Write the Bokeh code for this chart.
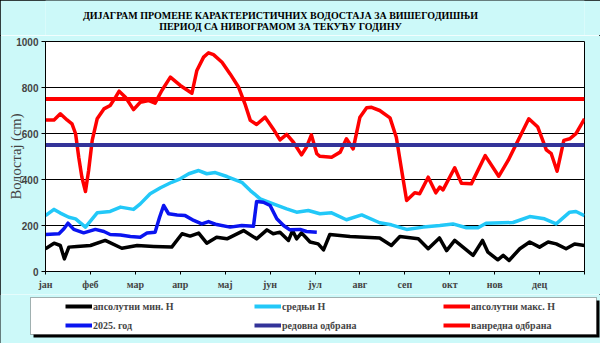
from bokeh.plotting import figure
from bokeh.layouts import column, row
from bokeh.models import Range1d, FixedTicker, Legend, LegendItem, BoxAnnotation, Label
from bokeh.embed import file_html
from bokeh.resources import INLINE

# ---------------- data (x in months from 1 Jan, y in cm) ----------------
months = ["јан", "феб", "мар", "апр", "мај", "јун", "јул", "авг", "сеп", "окт", "нов", "дец"]

max_x = [0, 0.19, 0.33, 0.48, 0.59, 0.67, 0.74, 0.81, 0.89, 0.96, 1.04, 1.15, 1.30, 1.44, 1.56, 1.64,
         1.78, 1.96, 2.11, 2.30, 2.44, 2.59, 2.78, 3.0, 3.26, 3.37, 3.52, 3.63, 3.74, 3.93, 4.11, 4.30,
         4.44, 4.56, 4.70, 4.89, 5.07, 5.22, 5.37, 5.52, 5.70, 5.81, 5.92, 6.04, 6.11, 6.37, 6.56, 6.70,
         6.85, 7.0, 7.15, 7.26, 7.44, 7.67, 7.81, 7.93, 8.04, 8.22, 8.33, 8.52, 8.69, 8.78, 8.85, 9.11,
         9.26, 9.48, 9.79, 10.09, 10.30, 10.52, 10.76, 10.96, 11.15, 11.26, 11.39, 11.54, 11.67, 11.81, 12.0]
max_y = [659, 659, 686, 659, 642, 599, 497, 410, 348, 439, 570, 664, 707, 722, 758, 784,
         758, 704, 736, 743, 732, 787, 845, 809, 775, 874, 932, 951, 943, 910, 859, 801,
         729, 657, 639, 671, 620, 572, 596, 562, 507, 541, 594, 512, 501, 497, 519, 577,
         533, 671, 712, 714, 700, 668, 584, 439, 309, 342, 338, 410, 342, 367, 355, 451,
         384, 381, 504, 414, 483, 570, 664, 628, 529, 512, 436, 570, 577, 599, 664]

mean_x = [0, 0.19, 0.33, 0.52, 0.67, 0.89, 1.15, 1.44, 1.67, 1.96, 2.11, 2.33, 2.56, 2.81, 3.0, 3.19,
          3.41, 3.59, 3.78, 4.04, 4.37, 4.56, 4.78, 5.07, 5.37, 5.59, 5.85, 6.11, 6.37, 6.70, 7.04,
          7.44, 7.70, 8.04, 8.41, 8.78, 9.07, 9.37, 9.63, 9.81, 10.41, 10.78, 11.11, 11.37, 11.67,
          11.81, 12.0]
mean_y = [243, 270, 254, 236, 229, 193, 255, 261, 280, 270, 294, 338, 364, 388, 403, 425,
          439, 425, 430, 413, 388, 352, 316, 294, 272, 258, 265, 251, 255, 225, 246,
          212, 203, 183, 193, 200, 207, 190, 190, 210, 213, 239, 229, 207, 258,
          261, 243]

min_x = [0, 0.19, 0.33, 0.42, 0.52, 0.70, 1.0, 1.33, 1.70, 2.04, 2.41, 2.81, 3.04, 3.22, 3.41, 3.59,
         3.81, 4.04, 4.41, 4.70, 4.93, 5.07, 5.22, 5.41, 5.50, 5.59, 5.70, 5.89, 6.07, 6.19, 6.33,
         6.78, 7.44, 7.70, 7.89, 8.30, 8.52, 8.77, 8.93, 9.11, 9.52, 9.73, 9.85, 10.07, 10.19, 10.32,
         10.56, 10.78, 11.0, 11.19, 11.37, 11.59, 11.78, 12.0]
min_y = [99, 123, 113, 55, 106, 109, 113, 135, 101, 113, 109, 106, 164, 154, 167, 123,
         149, 142, 178, 142, 181, 164, 171, 135, 178, 142, 168, 128, 120, 94, 161,
         152, 146, 113, 152, 142, 99, 146, 91, 135, 70, 135, 84, 51, 70, 48,
         99, 128, 106, 128, 120, 99, 120, 113]

cur_x = [0, 0.30, 0.41, 0.50, 0.63, 0.85, 1.11, 1.30, 1.44, 1.67, 1.89, 2.11, 2.26, 2.44, 2.54, 2.63,
         2.74, 2.93, 3.11, 3.30, 3.48, 3.63, 3.81, 4.11, 4.37, 4.63, 4.70, 4.85, 5.0, 5.15, 5.30,
         5.44, 5.67, 5.81, 6.04]
cur_y = [161, 164, 186, 210, 183, 168, 183, 174, 161, 159, 152, 149, 167, 171, 236, 287,
         251, 246, 243, 222, 207, 217, 204, 193, 200, 197, 304, 301, 287, 229, 200,
         181, 183, 174, 171]

redovna = 550   # regular flood defence level
vanredna = 750  # emergency flood defence level
year_span = [0, 12]

labels = ["апсолутни мин. H", "средњи H", "апсолутни макс. H",
          "2025. год", "редовна одбрана", "ванредна одбрана"]
colors = ["black", "#22c8f8", "#ff0000", "#0a14f0", "#333399", "#ff0000"]
title_lines = ["ДИЈАГРАМ ПРОМЕНЕ КАРАКТЕРИСТИЧНИХ ВОДОСТАЈА ЗА ВИШЕГОДИШЊИ",
               "ПЕРИОД СА НИВОГРАМОМ ЗА ТЕКУЋУ ГОДИНУ"]
y_label = "Водостај (cm)"

BG = "#ccf9f9"
SERIF = "Liberation Serif"
W = 600
LEFT, RIGHT = 45, 16
NAN = float("nan")

# ---------------- title strip ----------------
pt = figure(width=W, height=35, output_backend="svg", toolbar_location=None, title=None,
            x_range=Range1d(0, 1), y_range=Range1d(0, 1),
            x_axis_location=None, y_axis_location=None,
            min_border_left=LEFT, min_border_right=RIGHT, min_border_top=0, min_border_bottom=0)
pt.grid.visible = False
pt.outline_line_color = None
pt.background_fill_color = BG
pt.border_fill_color = BG
for txt, yy in zip(title_lines, [20, 9]):
    pt.add_layout(Label(x=280 - LEFT, y=yy, x_units="screen", y_units="screen", text=txt,
                        text_align="center", text_baseline="middle",
                        text_font=SERIF, text_font_style="bold", text_font_size="10px",
                        text_color="black"))

# ---------------- chart ----------------
p = figure(width=W, height=259, output_backend="svg", toolbar_location=None, title=None,
           x_range=Range1d(0, 12), y_range=Range1d(0, 1000),
           min_border_left=LEFT, min_border_right=RIGHT, min_border_top=6, min_border_bottom=23)
p.background_fill_color = "white"
p.border_fill_color = BG
p.outline_line_color = "black"
p.outline_line_width = 1

p.xgrid.visible = False
p.ygrid.grid_line_color = "black"
p.ygrid.grid_line_width = 1
p.ygrid.ticker = FixedTicker(ticks=[200, 400, 600, 800])

p.yaxis.ticker = FixedTicker(ticks=[0, 200, 400, 600, 800, 1000])
p.yaxis.major_label_text_font = "Liberation Sans"
p.yaxis.major_label_text_font_style = "bold"
p.yaxis.major_label_text_font_size = "10px"
p.yaxis.major_tick_out = 4
p.yaxis.major_tick_in = 0
p.yaxis.minor_tick_out = 0
p.yaxis.major_label_standoff = 3
p.yaxis.axis_label = y_label
p.yaxis.axis_label_text_font = SERIF
p.yaxis.axis_label_text_font_style = "normal"
p.yaxis.axis_label_text_font_size = "14.5px"
p.yaxis.axis_label_standoff = -11

p.xaxis.ticker = FixedTicker(ticks=list(range(13)))
p.xaxis.major_label_overrides = {**{i: m for i, m in enumerate(months)}, 12: ""}
p.xaxis.major_label_text_font = SERIF
p.xaxis.major_label_text_font_style = "bold"
p.xaxis.major_label_text_font_size = "10px"
p.xaxis.major_tick_out = 3
p.xaxis.major_tick_in = 0
p.xaxis.minor_tick_out = 0
p.xaxis.major_label_standoff = 4

p.line(min_x, min_y, line_color=colors[0], line_width=3.5, line_join="round")
p.line(mean_x, mean_y, line_color=colors[1], line_width=3.5, line_join="round")
p.line(max_x, max_y, line_color=colors[2], line_width=3.5, line_join="round")
p.line(cur_x, cur_y, line_color=colors[3], line_width=3.5, line_join="round")
p.line(year_span, [redovna, redovna], line_color=colors[4], line_width=4)
p.line(year_span, [vanredna, vanredna], line_color=colors[5], line_width=4)

# ---------------- legend strip ----------------
pl = figure(width=W, height=49, output_backend="svg", toolbar_location=None, title=None,
            x_range=Range1d(0, W), y_range=Range1d(49, 0),
            x_axis_location=None, y_axis_location=None, min_border=0)
pl.grid.visible = False
pl.outline_line_color = None
pl.background_fill_color = BG
pl.border_fill_color = BG
pl.add_layout(BoxAnnotation(left=33, right=599, top=6, bottom=43,
                            fill_color="black", fill_alpha=1, line_alpha=0))
pl.add_layout(BoxAnnotation(left=30, right=596, top=3, bottom=40,
                            fill_color="white", fill_alpha=1, line_color="black", line_width=1))
keys = [pl.line(x=[NAN], y=[NAN], line_color=c, line_width=4) for c in colors]
items = [LegendItem(label=l, renderers=[r]) for l, r in zip(labels, keys)]
legend = Legend(items=items, location=(63, 9), orientation="horizontal", ncols=3,
                padding=2, spacing=5, margin=0, glyph_width=27, glyph_height=14,
                label_height=14, label_width=156, label_standoff=1,
                label_text_font=SERIF, label_text_font_style="bold",
                label_text_font_size="10px",
                border_line_alpha=0, background_fill_alpha=0)
pl.add_layout(legend)

page = column(pt, p, row(pl, spacing=0), spacing=0,
              styles={"outline": "1px solid black", "outline-offset": "-1px"})

open("out.html", "w").write(file_html(page, INLINE))
